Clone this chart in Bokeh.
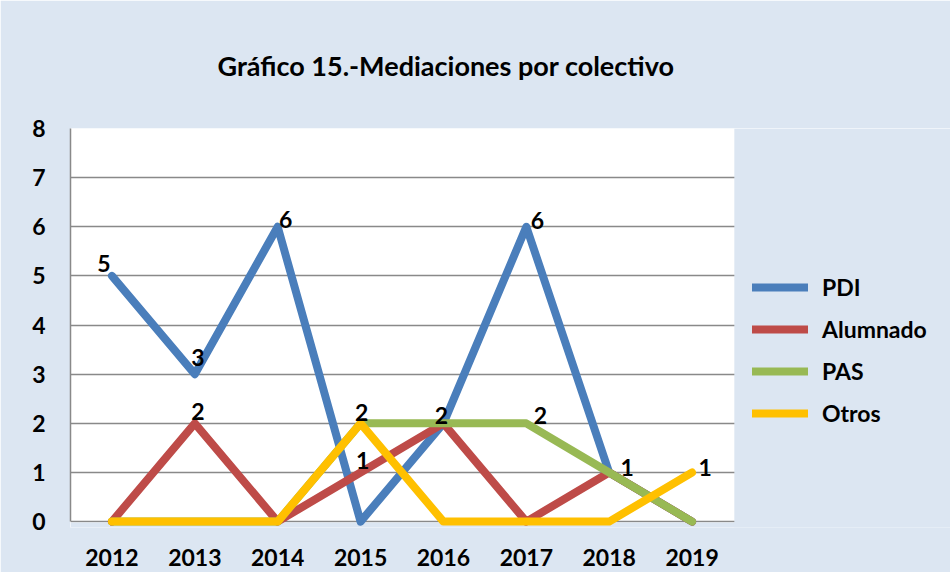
from bokeh.plotting import figure
from bokeh.models import (Legend, LegendItem, Range1d, FixedTicker,
                          ColumnDataSource, BoxAnnotation)
from bokeh.embed import file_html
from bokeh.resources import INLINE
from bokeh.core.properties import value

# ---- data ----
years = ["2012", "2013", "2014", "2015", "2016", "2017", "2018", "2019"]
pdi = [5, 3, 6, 0, 2, 6, 1, 0]
alumnado = [0, 2, 0, 1, 2, 0, 1, 0]
pas = [0, 0, 0, 2, 2, 2, 1, 0]
otros = [0, 0, 0, 2, 0, 0, 0, 1]
y_ticks = [0, 1, 2, 3, 4, 5, 6, 7, 8]
series_names = ["PDI", "Alumnado", "PAS", "Otros"]
title_text = "Gráfico 15.-Mediaciones por colectivo"

# data labels shown: (series, year index)
label_points = [("PDI", 0), ("PDI", 1), ("PDI", 2), ("PDI", 5),
                ("Alumnado", 1), ("Alumnado", 3), ("Alumnado", 4), ("Alumnado", 6),
                ("PAS", 5), ("Otros", 3), ("Otros", 7)]
# screen offsets of those labels (style)
label_dx = [-8, 3, 8, 11, 3, 2, -2, 18, 14, 1, 13]
label_dy = [-12, -17, -7, -6, -12, -12, -8, -5, -8, -11, -5]

colors = {"PDI": "#4A7EBB", "Alumnado": "#BE4B48", "PAS": "#98B954", "Otros": "#FFC000"}
values = {"PDI": pdi, "Alumnado": alumnado, "PAS": pas, "Otros": otros}

FONT = "Lato"
GRID = "#898989"
BG = "#DCE6F2"
Y_LOW = -0.12
n = len(years)
xs = list(range(n))
X_LEFT = -0.5
X_PLOT_END = n - 0.5
X_END = X_LEFT + 880 / 663 * n   # extra room on the right for the legend

p = figure(width=950, height=572,
           x_range=Range1d(X_LEFT, X_END),
           y_range=Range1d(Y_LOW, 8),
           output_backend="svg", toolbar_location=None,
           min_border_left=70, min_border_right=0,
           min_border_top=128, min_border_bottom=45,
           background_fill_color="white", border_fill_color=BG,
           outline_line_color=None)

p.title.text = title_text
p.title.align = "left"
p.title.offset = 147
p.title.text_font = FONT
p.title.text_font_size = "27px"
p.title.text_font_style = "bold"
p.title.text_color = "black"
p.title.standoff = 90
p.title.vertical_align = "top"

# areas of the frame that belong to the outer background
p.add_layout(BoxAnnotation(bottom=Y_LOW - 1, top=-0.02, fill_color=BG, fill_alpha=1,
                           line_color=None, level="underlay"))
p.add_layout(BoxAnnotation(left=X_PLOT_END + 0.01, fill_color=BG, fill_alpha=1,
                           line_color=None, level="underlay"))

items = []
for name in series_names:
    src = ColumnDataSource(dict(x=xs, y=values[name]))
    r = p.line("x", "y", source=src, line_color=colors[name], line_width=8,
               line_cap="round", line_join="round")
    items.append(LegendItem(label=name, renderers=[r]))

# data labels
lx = [xs[i] for (_, i) in label_points]
ly = [values[s][i] for (s, i) in label_points]
lt = [str(values[s][i]) for (s, i) in label_points]
lsrc = ColumnDataSource(dict(x=lx, y=ly, t=lt, dx=label_dx, dy=label_dy))
p.text("x", "y", text="t", source=lsrc, x_offset="dx", y_offset="dy",
       text_font=value(FONT), text_font_size="23px", text_font_style="bold",
       text_color="black", text_align="center", text_baseline="middle")

legend = Legend(items=items, location=(682, 100), orientation="vertical",
                margin=0, padding=0, border_line_color=None,
                background_fill_alpha=0, glyph_width=56, glyph_height=20,
                label_height=20, spacing=14, label_standoff=14,
                label_text_font=FONT, label_text_font_size="23px",
                label_text_font_style="bold", label_text_color="black")
p.add_layout(legend)

p.yaxis.ticker = FixedTicker(ticks=y_ticks)
p.yaxis.bounds = (0, 8)
p.xaxis.ticker = FixedTicker(ticks=xs)
p.xaxis.major_label_overrides = {i: y for i, y in zip(xs, years)}
for ax in (p.xaxis, p.yaxis):
    ax.major_tick_line_color = None
    ax.minor_tick_line_color = None
    ax.axis_line_color = GRID
    ax.axis_line_width = 1.5
    ax.major_label_text_font = FONT
    ax.major_label_text_font_size = "23px"
    ax.major_label_text_font_style = "bold"
    ax.major_label_text_color = "black"
p.xaxis.axis_line_color = None
p.yaxis.major_label_standoff = 19
p.xaxis.major_label_standoff = 15

p.xgrid.grid_line_color = None
p.ygrid.grid_line_color = GRID
p.ygrid.grid_line_width = 1.5

open("out.html", "w").write(file_html(p, INLINE))
